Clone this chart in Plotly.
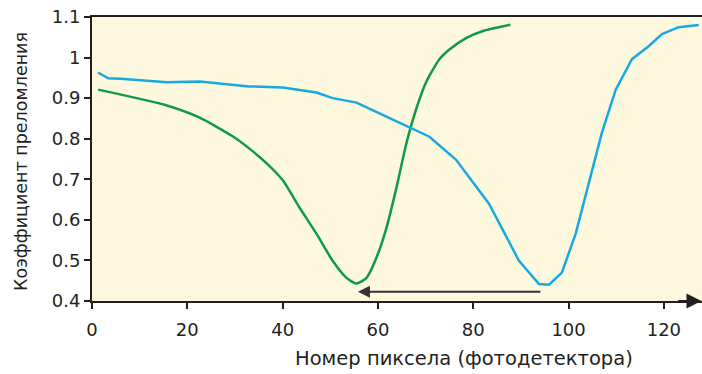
import plotly.graph_objects as go

# Green curve (first measurement)
green_x = [1.3, 15.7, 22.6, 29.5, 33.1, 36.6, 40.0, 43.5, 47.1, 50.5, 53.4, 55.5, 57.6, 59.7, 61.8, 63.9, 66.0, 68.0, 70.1, 72.9, 75.0, 78.5, 81.9, 87.8]
green_y = [0.921, 0.882, 0.852, 0.806, 0.775, 0.740, 0.698, 0.631, 0.566, 0.499, 0.457, 0.443, 0.457, 0.507, 0.581, 0.680, 0.790, 0.872, 0.939, 0.996, 1.020, 1.048, 1.065, 1.081]

# Blue curve (second measurement)
blue_x = [1.3, 3.4, 6.0, 15.7, 22.6, 29.5, 33.0, 40.0, 47.1, 50.5, 55.5, 61.0, 66.6, 70.8, 76.4, 83.3, 89.6, 93.8, 95.9, 98.6, 101.5, 104.3, 107.0, 109.9, 113.3, 116.8, 119.6, 123.1, 127.3]
blue_y = [0.963, 0.949, 0.948, 0.939, 0.941, 0.934, 0.929, 0.926, 0.914, 0.900, 0.889, 0.859, 0.827, 0.805, 0.748, 0.640, 0.499, 0.442, 0.440, 0.470, 0.566, 0.690, 0.815, 0.921, 0.996, 1.028, 1.058, 1.075, 1.080]

x_ticks = [0, 20, 40, 60, 80, 100, 120]
y_ticks = [0.4, 0.5, 0.6, 0.7, 0.8, 0.9, 1.0, 1.1]
y_tick_text = ["0.4", "0.5", "0.6", "0.7", "0.8", "0.9", "1", "1.1"]

# Shift arrow: from blue minimum to green minimum
shift_from = 94.4
shift_to = 55.8
shift_y = 0.423

x_title = "Номер пиксела (фотодетектора)"
y_title = "Коэффициент преломления"

FONT = "DejaVu Sans, Liberation Sans, sans-serif"
AX = "#231f20"

fig = go.Figure()
fig.add_trace(go.Scatter(x=green_x, y=green_y, mode="lines",
                         line=dict(color="#0f9a48", width=2.5, shape="spline", smoothing=0.6),
                         showlegend=False, hoverinfo="skip"))
fig.add_trace(go.Scatter(x=blue_x, y=blue_y, mode="lines",
                         line=dict(color="#18a8e2", width=2.5),
                         showlegend=False, hoverinfo="skip"))

# shift arrow
fig.add_annotation(x=shift_to, y=shift_y, ax=shift_from, ay=shift_y,
                   xref="x", yref="y", axref="x", ayref="y",
                   showarrow=True, arrowhead=2, arrowsize=1.2, arrowwidth=2,
                   arrowcolor="#333333", text="")
# x-axis arrowhead
fig.add_annotation(x=127.9, y=0.4, ax=-25, ay=0, xref="x", yref="y",
                   showarrow=True, arrowhead=2, arrowsize=1.5, arrowwidth=2,
                   arrowcolor=AX, text="")

fig.add_annotation(text=x_title, xref="paper", yref="paper", x=(464 - 92) / 610, y=-(358 - 301) / 284,
                   showarrow=False, xanchor="center", yanchor="middle",
                   font=dict(family=FONT, size=19.5, color=AX))
fig.add_annotation(text=y_title, xref="paper", yref="paper", x=-(92 - 21) / 610, y=(301 - 162) / 284,
                   showarrow=False, xanchor="center", yanchor="middle", textangle=-90,
                   font=dict(family=FONT, size=17.5, color=AX))

fig.update_layout(
    width=702, height=374,
    margin=dict(l=92, r=0, t=17, b=73),
    paper_bgcolor="white",
    plot_bgcolor="#fef9de",
    font=dict(family=FONT, size=18, color=AX),
    xaxis=dict(range=[0, 128], tickvals=x_ticks, showgrid=False, zeroline=False,
               showline=True, linecolor=AX, linewidth=2, mirror=True,
               ticks="outside", ticklen=6, tickwidth=1.5, tickcolor=AX,
               ticklabelstandoff=5,
               tickfont=dict(family=FONT, size=18, color=AX)),
    yaxis=dict(range=[0.4, 1.1], tickvals=y_ticks, ticktext=y_tick_text, showgrid=False, zeroline=False,
               showline=True, linecolor=AX, linewidth=2,
               ticks="outside", ticklen=6, tickwidth=1.5, tickcolor=AX,
               tickfont=dict(family=FONT, size=18, color=AX)),
)

fig.write_html("out.html")
